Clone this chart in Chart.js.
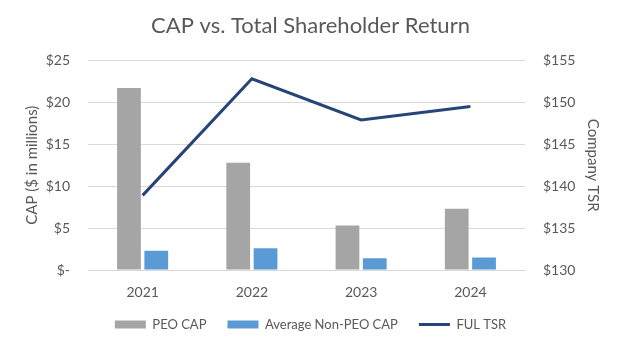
<!DOCTYPE html>
<html><head><meta charset="utf-8">
<script src="https://cdn.jsdelivr.net/npm/chart.js@4/dist/chart.umd.min.js"></script>
<style>html,body{margin:0;padding:0;background:#fff}#wrap{width:621px;height:346px}</style>
</head><body><div id="wrap"><canvas id="c" width="621" height="346"></canvas></div>
<script>
const categories = ['2021', '2022', '2023', '2024'];
const peoCap = [21.7, 12.8, 5.3, 7.3];
const nonPeoCap = [2.3, 2.6, 1.4, 1.5];
const fulTsr = [138.9, 152.8, 147.9, 149.5];
const leftTicks = [0, 5, 10, 15, 20, 25];
const rightTicks = [130, 135, 140, 145, 150, 155];

const FONT = 'Lato, "Open Sans", sans-serif';
const GREY = '#595959';

const legendHeightFix = {
  id: 'legendHeightFix',
  beforeUpdate(chart) {
    const lg = chart.legend;
    if (lg && !lg._fixed) {
      const orig = lg.fit;
      lg.fit = function () { orig.call(this); this.height = 45; this.minSize = { width: this.width, height: 45 }; };
      lg._fixed = true;
    }
  },
  afterLayout(chart) {
    const lg = chart.legend;
    if (lg) { lg.top -= 4; lg.bottom -= 4; }
  }
};

new Chart(document.getElementById('c'), {
  plugins: [legendHeightFix],
  data: {
    labels: categories,
    datasets: [
      { type: 'bar', label: 'PEO CAP', data: peoCap, backgroundColor: '#a5a5a5', yAxisID: 'y', order: 2, pointStyle: 'rect',
        barPercentage: 0.87, categoryPercentage: 0.5 },
      { type: 'bar', label: 'Average Non-PEO CAP', data: nonPeoCap, backgroundColor: '#5b9bd5', yAxisID: 'y', order: 2, pointStyle: 'rect',
        barPercentage: 0.87, categoryPercentage: 0.5 },
      { type: 'line', label: 'FUL TSR', data: fulTsr, borderColor: '#264478', backgroundColor: '#264478', borderWidth: 3,
        pointRadius: 0, pointStyle: 'line', yAxisID: 'y1', order: 1, tension: 0 }
    ]
  },
  options: {
    responsive: false,
    animation: false,
    layout: { padding: { top: 7, left: 0, right: 0, bottom: 0 } },
    plugins: {
      title: { display: true, text: 'CAP vs. Total Shareholder Return', color: GREY,
        font: { family: FONT, size: 22, weight: 'normal' }, padding: { top: 6, bottom: 21 } },
      legend: { position: 'bottom',
        labels: { color: GREY, font: { family: FONT, size: 13 }, usePointStyle: true, pointStyleWidth: 31, boxHeight: 8, padding: 21,
          sort: (a, b) => a.datasetIndex - b.datasetIndex } },
      tooltip: { enabled: false }
    },
    scales: {
      x: {
        afterFit: a => { a.height = 31; },
        grid: { display: false, drawTicks: false },
        border: { display: true, color: '#d9d9d9' },
        ticks: { color: GREY, font: { family: FONT, size: 14 }, padding: 14 }
      },
      y: {
        position: 'left', min: 0, max: 25,
        afterBuildTicks: a => { a.ticks = leftTicks.map(v => ({ value: v })); },
        afterFit: a => { a.width = 88; },
        grid: { color: '#d9d9d9', drawTicks: false },
        border: { display: false },
        ticks: { color: GREY, font: { family: FONT, size: 14 }, padding: 18,
          callback: v => v === 0 ? '$-' : '$' + v },
        title: { display: true, text: 'CAP ($ in millions)', color: GREY, font: { family: FONT, size: 15 }, padding: { top: 23, bottom: 0 } }
      },
      y1: {
        position: 'right', min: 130, max: 155,
        afterBuildTicks: a => { a.ticks = rightTicks.map(v => ({ value: v })); },
        afterFit: a => { a.width = 96; },
        grid: { display: false, drawTicks: false },
        border: { display: false },
        ticks: { color: GREY, font: { family: FONT, size: 14 }, padding: 18, callback: v => '$' + v },
        title: { display: true, text: 'Company TSR', color: GREY, font: { family: FONT, size: 15 }, padding: { top: 19, bottom: 0 } }
      }
    }
  }
});
</script></body></html>
